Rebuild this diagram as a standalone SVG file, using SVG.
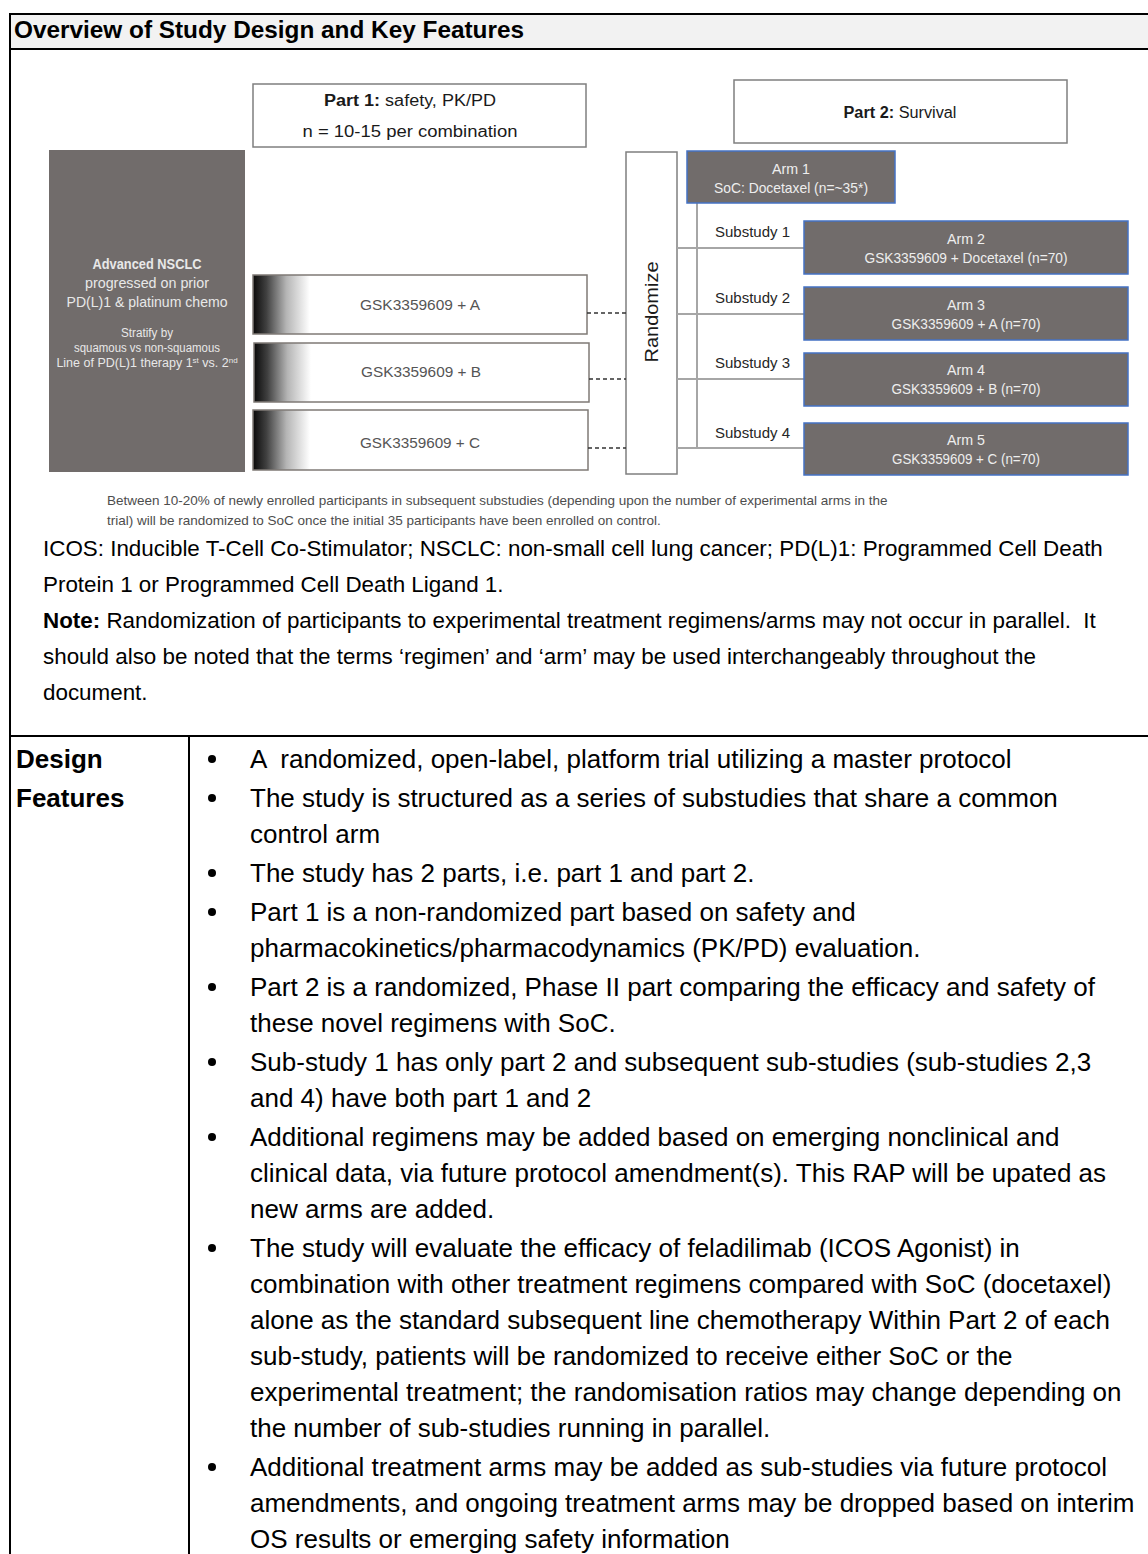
<svg xmlns="http://www.w3.org/2000/svg" width="1148" height="1554" viewBox="0 0 1148 1554">
<defs>
<style>
.sans{font-family:"Liberation Sans",Arial,sans-serif}
.tbl{stroke:#000;stroke-width:2;fill:none}
.body{font-family:"Liberation Sans",Arial,sans-serif;font-size:26px;fill:#000}
.note{font-family:"Liberation Sans",Arial,sans-serif;font-size:22.4px;fill:#000}
.small{font-family:"Liberation Sans",Arial,sans-serif;font-size:13.5px;fill:#4d4d4d}
.box{fill:#fff;stroke:#7f7f7f;stroke-width:1.5}
.gbox{stroke:#7f7a76;stroke-width:1.5}
.dark{fill:#716c6b}
.arm{fill:#716c6b;stroke:#4472c4;stroke-width:1.5}
.armtxt{font-family:"Liberation Sans",Arial,sans-serif;font-size:14.5px;fill:#eeeeee;text-anchor:middle}
.ptxt{font-family:"Liberation Sans",Arial,sans-serif;font-size:16px;fill:#1a1a1a;text-anchor:middle}
.gsk{font-family:"Liberation Sans",Arial,sans-serif;font-size:15.5px;fill:#555;text-anchor:middle}
.sub{font-family:"Liberation Sans",Arial,sans-serif;font-size:15px;fill:#262626}
.tree{stroke:#a6a6a6;stroke-width:2;fill:none}
.dash{stroke:#333;stroke-width:1.3;stroke-dasharray:4 3;fill:none}
.ns{font-family:"Liberation Sans",Arial,sans-serif;fill:#e8e8e8;text-anchor:middle}
.b{font-weight:bold}
</style>
<linearGradient id="fade" x1="0" y1="0" x2="1" y2="0">
<stop offset="0" stop-color="#0a0a0a"/>
<stop offset="0.04" stop-color="#404040"/>
<stop offset="0.10" stop-color="#b5b5b5"/>
<stop offset="0.17" stop-color="#ffffff"/>
<stop offset="1" stop-color="#ffffff"/>
</linearGradient>
</defs>
<rect width="1148" height="1554" fill="#fff"/>

<g id="table">
<rect x="10" y="14" width="1140" height="35" fill="#f2f2f2"/>
<line class="tbl" x1="9" y1="14" x2="1148" y2="14"/>
<line class="tbl" x1="9" y1="49" x2="1148" y2="49"/>
<line class="tbl" x1="10" y1="13" x2="10" y2="1554"/>
<line class="tbl" x1="9" y1="736" x2="1148" y2="736"/>
<line class="tbl" x1="189" y1="736" x2="189" y2="1554"/>
<text class="sans b" x="14" y="38" font-size="24px" textLength="510" lengthAdjust="spacingAndGlyphs">Overview of Study Design and Key Features</text>
</g>

<g id="part1">
<rect class="box" x="253" y="84" width="333" height="63"/>
<text class="ptxt" x="410" y="106" textLength="172" lengthAdjust="spacingAndGlyphs"><tspan font-weight="bold">Part 1:</tspan> safety, PK/PD</text>
<text class="ptxt" x="410" y="137" textLength="215" lengthAdjust="spacingAndGlyphs">n = 10-15 per combination</text>
</g>

<g id="part2">
<rect class="box" x="734" y="80" width="333" height="63"/>
<text class="ptxt" x="900" y="118" textLength="113" lengthAdjust="spacingAndGlyphs"><tspan font-weight="bold">Part 2:</tspan> Survival</text>
</g>

<g id="population">
<rect class="dark" x="49" y="150" width="196" height="322"/>
<text class="ns b" x="147" y="269" font-size="15px" textLength="109" lengthAdjust="spacingAndGlyphs">Advanced NSCLC</text>
<text class="ns" x="147" y="288" font-size="15px" textLength="124" lengthAdjust="spacingAndGlyphs">progressed on prior</text>
<text class="ns" x="147" y="307" font-size="15px" textLength="161" lengthAdjust="spacingAndGlyphs">PD(L)1 &amp; platinum chemo</text>
<text class="ns" x="147" y="337" font-size="12.5px" fill="#dcdcdc" textLength="52" lengthAdjust="spacingAndGlyphs">Stratify by</text>
<text class="ns" x="147" y="352" font-size="12.5px" fill="#dcdcdc" textLength="146" lengthAdjust="spacingAndGlyphs">squamous vs non-squamous</text>
<text class="ns" x="147" y="367" font-size="12.5px" fill="#dcdcdc">Line of PD(L)1 therapy 1<tspan font-size="8px" dy="-4">st</tspan><tspan dy="4"> vs. 2</tspan><tspan font-size="8px" dy="-4">nd</tspan></text>
</g>

<g id="comboA">
<rect class="gbox" x="253" y="275" width="334" height="59" fill="url(#fade)"/>
<text class="gsk" x="420" y="310" textLength="120" lengthAdjust="spacingAndGlyphs">GSK3359609 + A</text>
</g>
<g id="comboB">
<rect class="gbox" x="254" y="343" width="335" height="59" fill="url(#fade)"/>
<text class="gsk" x="421" y="377" textLength="120" lengthAdjust="spacingAndGlyphs">GSK3359609 + B</text>
</g>
<g id="comboC">
<rect class="gbox" x="253" y="410" width="335" height="60" fill="url(#fade)"/>
<text class="gsk" x="420" y="448" textLength="120" lengthAdjust="spacingAndGlyphs">GSK3359609 + C</text>
</g>

<g id="randomize">
<rect class="box" x="626" y="152" width="51" height="322"/>
<text class="sans" transform="translate(658,312) rotate(-90)" font-size="19px" fill="#1a1a1a" text-anchor="middle" textLength="101" lengthAdjust="spacingAndGlyphs">Randomize</text>
</g>

<g id="connectors">
<line class="dash" x1="587" y1="313" x2="626" y2="313"/>
<line class="dash" x1="589" y1="379" x2="626" y2="379"/>
<line class="dash" x1="588" y1="448" x2="626" y2="448"/>
<line class="tree" x1="697" y1="203" x2="697" y2="448"/>
<line class="tree" x1="677" y1="248" x2="804" y2="248"/>
<line class="tree" x1="677" y1="314" x2="804" y2="314"/>
<line class="tree" x1="677" y1="379" x2="804" y2="379"/>
<line class="tree" x1="677" y1="448" x2="804" y2="448"/>
<text class="sub" x="715" y="237">Substudy 1</text>
<text class="sub" x="715" y="303">Substudy 2</text>
<text class="sub" x="715" y="368">Substudy 3</text>
<text class="sub" x="715" y="438">Substudy 4</text>
</g>

<g id="arm1">
<rect class="arm" x="687" y="151" width="208" height="52"/>
<text class="armtxt" x="791" y="174" textLength="38" lengthAdjust="spacingAndGlyphs">Arm 1</text>
<text class="armtxt" x="791" y="193" textLength="154" lengthAdjust="spacingAndGlyphs">SoC: Docetaxel (n=~35*)</text>
</g>
<g id="arm2">
<rect class="arm" x="804" y="221" width="324" height="53"/>
<text class="armtxt" x="966" y="244" textLength="38" lengthAdjust="spacingAndGlyphs">Arm 2</text>
<text class="armtxt" x="966" y="263" textLength="203" lengthAdjust="spacingAndGlyphs">GSK3359609 + Docetaxel (n=70)</text>
</g>
<g id="arm3">
<rect class="arm" x="804" y="287" width="324" height="53"/>
<text class="armtxt" x="966" y="310" textLength="38" lengthAdjust="spacingAndGlyphs">Arm 3</text>
<text class="armtxt" x="966" y="329" textLength="149" lengthAdjust="spacingAndGlyphs">GSK3359609 + A (n=70)</text>
</g>
<g id="arm4">
<rect class="arm" x="804" y="353" width="324" height="53"/>
<text class="armtxt" x="966" y="375" textLength="38" lengthAdjust="spacingAndGlyphs">Arm 4</text>
<text class="armtxt" x="966" y="394" textLength="149" lengthAdjust="spacingAndGlyphs">GSK3359609 + B (n=70)</text>
</g>
<g id="arm5">
<rect class="arm" x="804" y="423" width="324" height="52"/>
<text class="armtxt" x="966" y="445" textLength="38" lengthAdjust="spacingAndGlyphs">Arm 5</text>
<text class="armtxt" x="966" y="464" textLength="148" lengthAdjust="spacingAndGlyphs">GSK3359609 + C (n=70)</text>
</g>

<g id="footnotes">
<text class="small" x="107" y="505">Between 10-20% of newly enrolled participants in subsequent substudies (depending upon the number of experimental arms in the</text>
<text class="small" x="107" y="525">trial) will be randomized to SoC once the initial 35 participants have been enrolled on control.</text>
<text class="note" x="43" y="556">ICOS: Inducible T-Cell Co-Stimulator; NSCLC: non-small cell lung cancer; PD(L)1: Programmed Cell Death</text>
<text class="note" x="43" y="592">Protein 1 or Programmed Cell Death Ligand 1.</text>
<text class="note" x="43" y="628" xml:space="preserve"><tspan font-weight="bold">Note:</tspan> Randomization of participants to experimental treatment regimens/arms may not occur in parallel.  It</text>
<text class="note" x="43" y="664">should also be noted that the terms ‘regimen’ and ‘arm’ may be used interchangeably throughout the</text>
<text class="note" x="43" y="700">document.</text>
</g>

<g id="design-features">
<text class="body b" x="16" y="768">Design</text>
<text class="body b" x="16" y="807">Features</text>
<g fill="#000">
<circle cx="212" cy="759" r="4"/>
<circle cx="212" cy="798" r="4"/>
<circle cx="212" cy="873" r="4"/>
<circle cx="212" cy="912" r="4"/>
<circle cx="212" cy="987" r="4"/>
<circle cx="212" cy="1062" r="4"/>
<circle cx="212" cy="1137" r="4"/>
<circle cx="212" cy="1248" r="4"/>
<circle cx="212" cy="1467" r="4"/>
</g>
<text class="body" x="250" y="768" xml:space="preserve">A  randomized, open-label, platform trial utilizing a master protocol</text>
<text class="body" x="250" y="807">The study is structured as a series of substudies that share a common</text>
<text class="body" x="250" y="843">control arm</text>
<text class="body" x="250" y="882">The study has 2 parts, i.e. part 1 and part 2.</text>
<text class="body" x="250" y="921">Part 1 is a non-randomized part based on safety and</text>
<text class="body" x="250" y="957">pharmacokinetics/pharmacodynamics (PK/PD) evaluation.</text>
<text class="body" x="250" y="996">Part 2 is a randomized, Phase II part comparing the efficacy and safety of</text>
<text class="body" x="250" y="1032">these novel regimens with SoC.</text>
<text class="body" x="250" y="1071">Sub-study 1 has only part 2 and subsequent sub-studies (sub-studies 2,3</text>
<text class="body" x="250" y="1107">and 4) have both part 1 and 2</text>
<text class="body" x="250" y="1146">Additional regimens may be added based on emerging nonclinical and</text>
<text class="body" x="250" y="1182">clinical data, via future protocol amendment(s). This RAP will be upated as</text>
<text class="body" x="250" y="1218">new arms are added.</text>
<text class="body" x="250" y="1257">The study will evaluate the efficacy of feladilimab (ICOS Agonist) in</text>
<text class="body" x="250" y="1293">combination with other treatment regimens compared with SoC (docetaxel)</text>
<text class="body" x="250" y="1329">alone as the standard subsequent line chemotherapy Within Part 2 of each</text>
<text class="body" x="250" y="1365">sub-study, patients will be randomized to receive either SoC or the</text>
<text class="body" x="250" y="1401">experimental treatment; the randomisation ratios may change depending on</text>
<text class="body" x="250" y="1437">the number of sub-studies running in parallel.</text>
<text class="body" x="250" y="1476">Additional treatment arms may be added as sub-studies via future protocol</text>
<text class="body" x="250" y="1512">amendments, and ongoing treatment arms may be dropped based on interim</text>
<text class="body" x="250" y="1548">OS results or emerging safety information</text>
</g>
</svg>
